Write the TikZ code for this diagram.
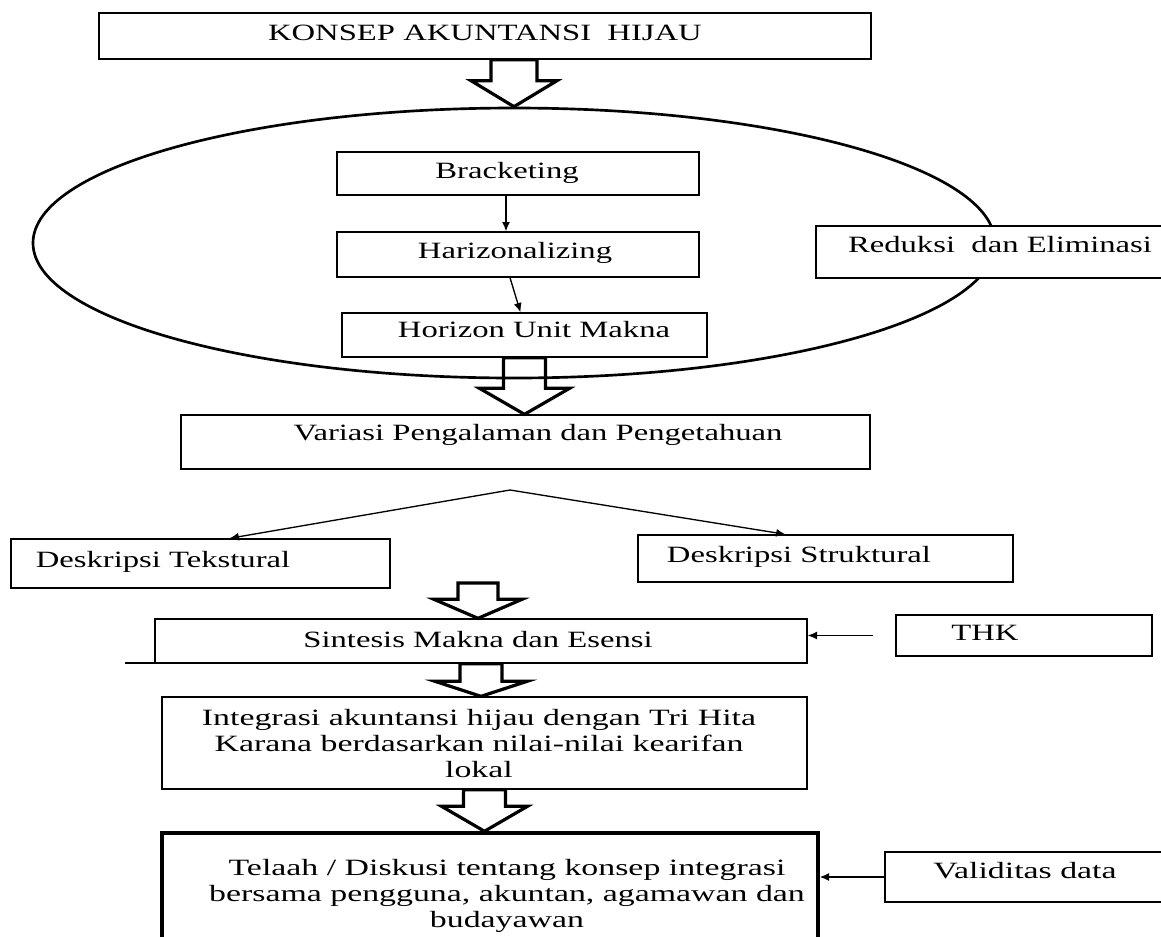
\documentclass[tikz,border=0pt]{standalone}
\usepackage{fontspec}
\setmainfont{Liberation Serif}[FakeStretch=1.4]
\newfontfamily\widefont{Liberation Serif}[FakeStretch=1.45]
\usetikzlibrary{calc,fit,shapes.geometric,arrows.meta}

\tikzset{every picture/.style={line width=0.75pt}}
\tikzset{
	box/.style={draw, fill=white, inner sep=0pt, line width=1pt},
	ring/.style={draw, ellipse, inner sep=0pt, line width=2pt},
	lbl/.style={inner sep=0pt, anchor=base, font=\fontsize{17.5}{19.5}\selectfont},
	wide lbl/.style={lbl, font=\widefont\fontsize{17.5}{19.5}\selectfont},
	thin arrow/.style={-{Latex[length=7pt,width=6pt]}, line width=1pt},
	arrshaft/.store in=\arrshaft, arrhead/.store in=\arrhead, arrlen/.store in=\arrlen,
	arrshaft=21, arrhead=44, arrlen=25,
	hollow/.style={line width=2.4pt, line join=miter, to path={
		($(\tikztostart)+(-\arrshaft,0)$) -- ($(\tikztostart)+(\arrshaft,0)$)
		-- ($(\tikztotarget)+(\arrshaft,-\arrlen)$) -- ($(\tikztotarget)+(\arrhead,-\arrlen)$)
		-- (\tikztotarget) -- ($(\tikztotarget)+(-\arrhead,-\arrlen)$)
		-- ($(\tikztotarget)+(-\arrshaft,-\arrlen)$) -- cycle}}
}

\begin{document}
\begin{tikzpicture}[x=0.75pt,y=0.75pt,yscale=-1,xscale=1]
	\useasboundingbox (0,0) rectangle (1161,936);

	%Shape: Ellipse
	\node [ring, minimum width=721.5pt, minimum height=202.5pt] (ell) at (514,243) {};

	%Shape: Rectangle
	\node [box, fit={(99,13) (871,59)}] (konsep) {};
	\node [box, fit={(337,152) (699,195)}] (bracket) {};
	\node [box, fit={(337,232) (699,277)}] (harizon) {};
	\node [box, fit={(342,313) (707,357)}] (horizon) {};
	\node [box, fit={(816,226) (1175,278)}] (reduksi) {};
	\node [box, fit={(181,415) (870,469)}] (variasi) {};
	\node [box, fit={(11,539) (390,588)}] (tekstural) {};
	\node [box, fit={(638,535) (1013,582)}] (struktural) {};
	\node [box, fit={(155,619) (807,663)}] (sintesis) {};
	\node [box, fit={(896,615) (1152,656)}] (thk) {};
	\node [box, fit={(162,697) (807,789)}] (integrasi) {};
	\node [box, fit={(162,833) (818,960)}, line width=2.6pt] (telaah) {};
	\node [box, fit={(885,852) (1175,902)}] (validitas) {};
	%Straight Lines
	\draw [line width=2.2pt] (125,663) -- (795,663) ;

	% Text Node
	\node [lbl] (konsep-t) at (485,40) {KONSEP AKUNTANSI~ HIJAU};
	\node [lbl] (bracket-t) at (507,178) {Bracketing};
	\node [lbl] (harizon-t) at (515,258) {Harizonalizing};
	\node [lbl] (horizon-t) at (534,337) {Horizon Unit Makna};
	\node [lbl] (reduksi-t) at (1000,252) {Reduksi~ dan Eliminasi};
	\node [lbl] (variasi-t) at (538,440) {Variasi Pengalaman dan Pengetahuan};
	\node [lbl] (tekstural-t) at (163,567) {Deskripsi Tekstural};
	\node [lbl] (struktural-t) at (799,562) {Deskripsi Struktural};
	\node [lbl] (sintesis-t) at (478,647) {Sintesis Makna dan Esensi};
	\node [lbl] (thk-t) at (985,640) {THK};
	\node [wide lbl, align=center] (integrasi-t) at (479,777) {Integrasi akuntansi hijau dengan Tri Hita\\Karana berdasarkan nilai-nilai kearifan\\lokal};
	\node [wide lbl, align=center] (telaah-t) at (507,927) {Telaah / Diskusi tentang konsep integrasi\\bersama pengguna, akuntan, agamawan dan\\budayawan};
	\node [wide lbl] (validitas-t) at (1025,878) {Validitas data};

	% Block Arrows
	\coordinate (a1) at (konsep.south -| ell.north);
	\coordinate (a2) at (variasi.north -| horizon.south);
	\coordinate (a3) at (478,583);
	\coordinate (a3t) at (sintesis.north -| a3);
	\coordinate (a4) at (integrasi.north -| sintesis.south);
	\coordinate (a5) at (telaah.north -| integrasi.south);
	\draw [hollow, arrshaft=23, arrhead=43, arrlen=26] (a1) to (ell.north) ;
	\draw [hollow, arrshaft=21, arrhead=45, arrlen=26] (horizon.south) to (a2) ;
	\draw [hollow, arrshaft=20, arrhead=44, arrlen=19] (a3) to (a3t) ;
	\draw [hollow, arrshaft=21, arrhead=46, arrlen=15] (sintesis.south) to (a4) ;
	\draw [hollow, arrshaft=21, arrhead=43, arrlen=25] (integrasi.south) to (a5) ;

	% Arrows
	\draw [thin arrow] ([xshift=-9pt]bracket.south) -- ([xshift=-9pt]harizon.north) ;
	\draw [thin arrow] ([xshift=-6pt]harizon.south) -- ([xshift=-3pt]horizon.north) ;
	\coordinate (split) at (510,490);
	\draw [thin arrow] (split) -- ($(tekstural.north)+(29,0)$) ;
	\draw [thin arrow] (split) -- ($(struktural.north)+(-40,0)$) ;
	\draw [thin arrow] ([xshift=-16.5pt]thk.west) -- (thk.west -| sintesis.east) ;
	\draw [thin arrow] (validitas.west) -- (validitas.west -| telaah.east) ;

\end{tikzpicture}
\end{document}
